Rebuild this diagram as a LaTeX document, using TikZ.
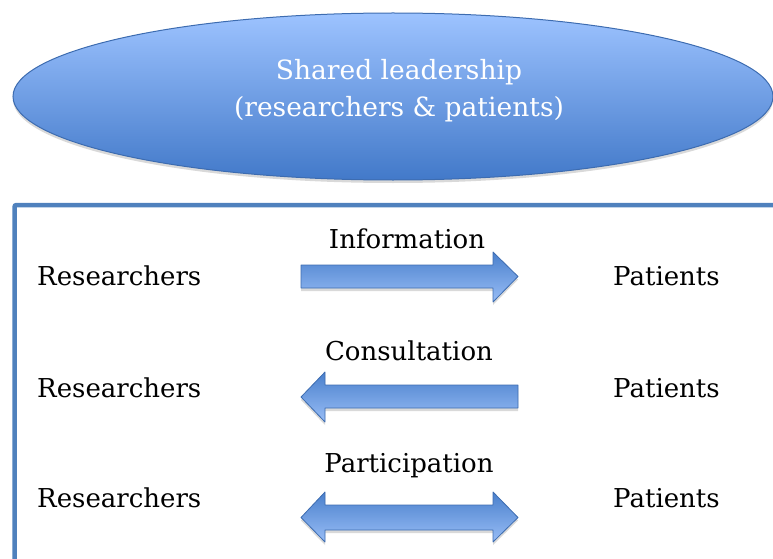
\documentclass[tikz,border=0pt]{standalone}
\usepackage{fontspec}
\setmainfont{DejaVu Serif}
\usetikzlibrary{shadows}
\definecolor{edgeblue}{HTML}{3D6CB0}
\definecolor{boxblue}{HTML}{4F81BD}
\definecolor{lighttop}{HTML}{9DC3FF}
\definecolor{darkbot}{HTML}{4279C9}
\definecolor{arrtop}{HTML}{4A80CC}
\definecolor{arrbot}{HTML}{98BDF6}
\tikzset{
  rowtext/.style={inner sep=0pt, font=\fontsize{26}{31}\selectfont},
  leadtext/.style={inner sep=0pt, text=white, font=\fontsize{26.5}{32}\selectfont},
  leadfill/.style={top color=lighttop, bottom color=darkbot, draw=edgeblue, line width=1pt,
    drop shadow={opacity=0.3, shadow xshift=0pt, shadow yshift=-3pt}},
  blockarrow/.style={top color=arrtop, bottom color=arrbot, draw=edgeblue, line width=0.8pt, line join=round,
    drop shadow={opacity=0.3, shadow xshift=0pt, shadow yshift=-3pt}}
}
\begin{document}
\begin{tikzpicture}[x=1pt,y=-1pt]
\useasboundingbox (0,0) rectangle (773,559);
\clip (0,0) rectangle (773,559);
% shared leadership
\shade[leadfill] (393,96.5) ellipse [x radius=380, y radius=83.5];
\node[leadtext, anchor=base] (lead1) at (399,80) {Shared leadership};
\node[leadtext, anchor=base] (lead2) at (399,117) {(researchers \& patients)};
% frame
\draw[boxblue, line width=4.5pt, rounded corners=2pt] (14.5,205) rectangle (800,600);
% rows
\node[rowtext, anchor=base west] (res1) at (37,285) {Researchers};
\node[rowtext, anchor=base west] (res2) at (37,397) {Researchers};
\node[rowtext, anchor=base west] (res3) at (37,507) {Researchers};
\node[rowtext, anchor=base west] (pat1) at (613,285) {Patients};
\node[rowtext, anchor=base west] (pat2) at (613,397) {Patients};
\node[rowtext, anchor=base west] (pat3) at (613,507) {Patients};
\node[rowtext, anchor=base] (info) at (407,248) {Information};
\node[rowtext, anchor=base] (cons) at (409,360) {Consultation};
\node[rowtext, anchor=base] (part) at (409,472) {Participation};
% arrows
\shade[blockarrow] (301,265) -- (493,265) -- (493,252) -- (518,276.5) -- (493,302)
  -- (493,288) -- (301,288) -- cycle;
\shade[blockarrow] (518,385) -- (325,385) -- (325,372) -- (301,397) -- (325,422)
  -- (325,408) -- (518,408) -- cycle;
\shade[blockarrow] (325,505) -- (493,505) -- (493,492) -- (518,517.5) -- (493,542)
  -- (493,530) -- (325,530) -- (325,542) -- (301,517.5) -- (325,492) -- cycle;
\end{tikzpicture}
\end{document}
